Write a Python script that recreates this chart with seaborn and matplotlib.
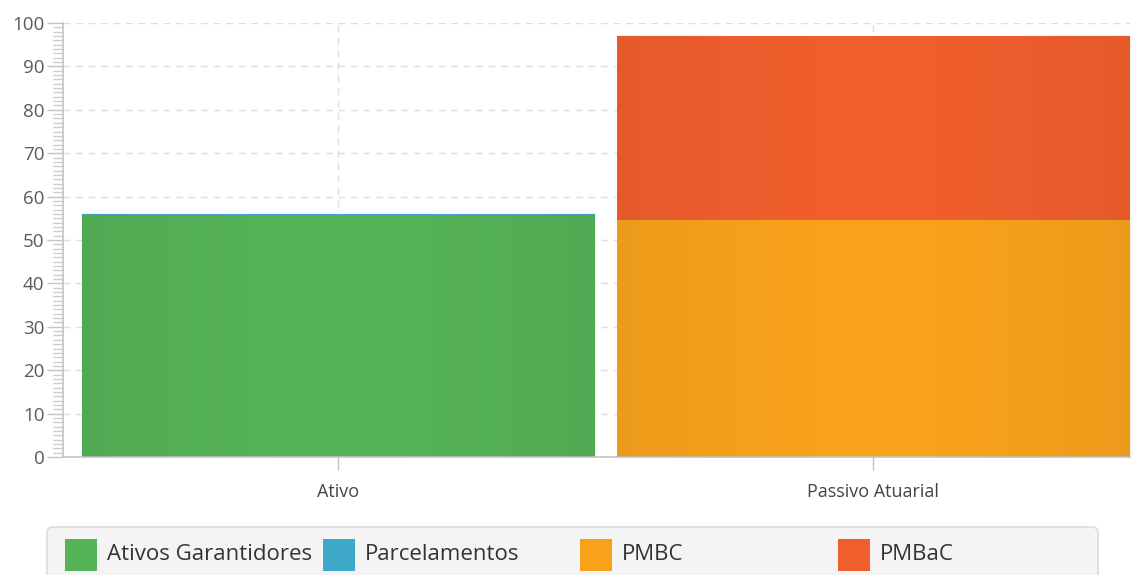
import numpy as np
import pandas as pd
import matplotlib.pyplot as plt
import seaborn as sns
from matplotlib.patches import FancyBboxPatch, Rectangle
from matplotlib.ticker import MultipleLocator

# chart values
categories = ['Ativo', 'Passivo Atuarial']
series_names = ['Ativos Garantidores', 'Parcelamentos', 'PMBC', 'PMBaC']
ativos_garantidores = [55.5, 0.0]
parcelamentos = [0.5, 0.0]
pmbc = [0.0, 54.6]
pmbac = [0.0, 42.4]
colors = ['#55b257', '#3fa8c8', '#f8a21c', '#f05e2d']

sns.set_style('white')
plt.rcParams['font.family'] = ['Open Sans', 'DejaVu Sans']

df = pd.DataFrame({'Categoria': categories,
                   'Ativos Garantidores': ativos_garantidores,
                   'Parcelamentos': parcelamentos,
                   'PMBC': pmbc,
                   'PMBaC': pmbac})

fig = plt.figure(figsize=(11.36, 5.75), dpi=100)
ax = fig.add_axes([0.0555, 0.2052, 0.9392, 0.7548])

bar_w = 0.959
# stacked bars: draw cumulative totals from the top layer down
cum = df[series_names].cumsum(axis=1)
for name, col in reversed(list(zip(series_names, colors))):
    sns.barplot(x=df['Categoria'], y=cum[name], color=col, width=bar_w,
                saturation=1, linewidth=0, ax=ax, zorder=2)

# soft horizontal shading on each visible segment
shade = np.abs(np.linspace(-1, 1, 200)) ** 1.8
shade_img = np.zeros((1, 200, 4))
shade_img[..., 3] = 0.05 * shade
for i in range(len(categories)):
    for name in series_names:
        v = df[name][i]
        if v <= 0:
            continue
        top = cum[name][i]
        ax.imshow(shade_img, extent=[i - bar_w / 2, i + bar_w / 2, top - v, top],
                  aspect='auto', zorder=3, interpolation='bilinear')

ax.set_xlim(-0.514, 1.48)
ax.set_ylim(0, 100)
ax.set_xlabel('')
ax.set_ylabel('')
ax.yaxis.set_major_locator(MultipleLocator(10))
ax.yaxis.set_minor_locator(MultipleLocator(1))

ax.grid(True, which='major', color='#dedede', linestyle=(0, (5, 4)), linewidth=1, zorder=0)
ax.set_axisbelow(True)

for s in ['top', 'right']:
    ax.spines[s].set_visible(False)
for s in ['left', 'bottom']:
    ax.spines[s].set_color('#c4c4c4')
    ax.spines[s].set_linewidth(1.2)

ax.tick_params(which='both', left=True, bottom=True)
ax.tick_params(axis='y', which='major', length=11.5, width=1, color='#c4c4c4',
               labelsize=13.5, labelcolor='#5a5a5a', pad=2)
ax.tick_params(axis='y', which='minor', length=7, width=1, color='#cccccc')
ax.tick_params(axis='x', length=9, width=1, color='#c4c4c4',
               labelsize=13, labelcolor='#444444', pad=10)

# legend box
fig.patches.append(FancyBboxPatch((0.47, -0.06), 10.51, 0.54,
                                  boxstyle='round,pad=0,rounding_size=0.06',
                                  transform=fig.dpi_scale_trans, facecolor='#f4f4f4',
                                  edgecolor='#dcdcdc', linewidth=1.2, zorder=1))
legend_x = [0.65, 3.23, 5.80, 8.38]
for lx, name, col in zip(legend_x, series_names, colors):
    fig.patches.append(Rectangle((lx, 0.04), 0.32, 0.32, transform=fig.dpi_scale_trans,
                                 facecolor=col, edgecolor='none', zorder=2))
    fig.text(lx + 0.42, 0.205, name, transform=fig.dpi_scale_trans, fontsize=16,
             color='#333333', va='center', ha='left', zorder=3)

fig.savefig('out.png', dpi=100)
